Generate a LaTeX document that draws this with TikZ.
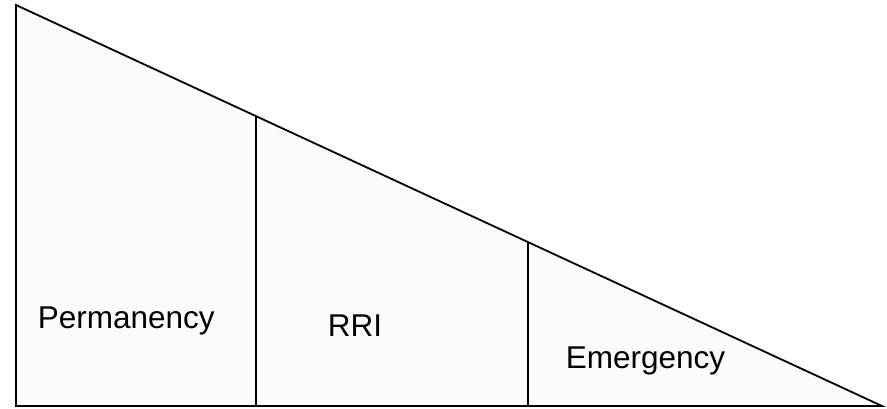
\documentclass[tikz,border=0pt]{standalone}
\usepackage{fontspec}
\setmainfont{Liberation Sans}
\usetikzlibrary{calc}

\begin{document}
\begin{tikzpicture}[
    x=1pt, y=-1pt, line width=1.8pt,
    every node/.style={anchor=base west, inner sep=0pt, font=\fontsize{31.5}{37}\selectfont}
]
\useasboundingbox (0,0) rectangle (887,408);
\coordinate (apex) at (16,5);
\coordinate (origin) at (16,406);
\coordinate (corner) at (882,406);
\filldraw[fill={rgb,255:red,250;green,252;blue,252}, line join=miter] (apex) -- (origin) -- (corner) -- cycle;
\coordinate (cut_rri) at ($(apex)!{(256-16)/866}!(corner)$);
\coordinate (cut_emergency) at ($(apex)!{(528-16)/866}!(corner)$);
\draw (cut_rri) -- (cut_rri |- origin);
\draw (cut_emergency) -- (cut_emergency |- origin);
\node (permanency) at (37,328) {Permanency};
\node (rri) at (327,336) {RRI};
\node (emergency) at (565,368) {Emergency};
\end{tikzpicture}
\end{document}
